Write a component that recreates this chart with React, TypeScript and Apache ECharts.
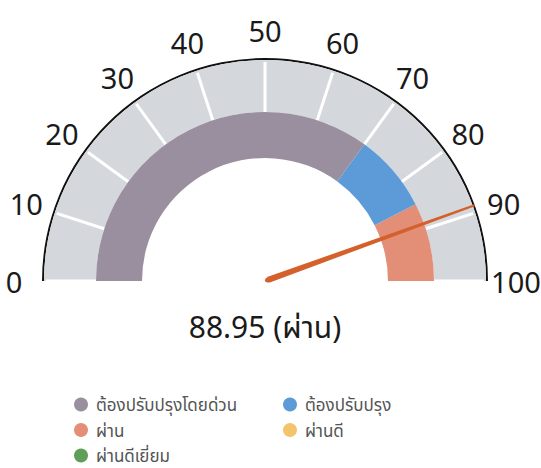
import React, { useEffect, useRef } from "react";
import * as echarts from "echarts";

// ---- data ----
const categories = ["ต้องปรับปรุงโดยด่วน", "ต้องปรับปรุง", "ผ่าน", "ผ่านดี", "ผ่านดีเยี่ยม"];
const categoryColors = ["#9a8f9e", "#5d9bd8", "#e38e76", "#f3c46c", "#5f9e58"];
const bandEnds = [70, 85, 100]; // colored band segment ends
const bandCategory = [0, 1, 2]; // which category each band shows
const gaugeMin = 0;
const gaugeMax = 100;
const gaugeSplits = 10;
const score = 88.95;
const scoreStatus = "ผ่าน";

const leftLegend = [categories[0], categories[2], categories[4]];
const rightLegend = [categories[1], categories[3]];

const FONT = "'Noto Sans', 'Noto Sans Thai', sans-serif";

export default function App() {
  const ref = useRef<HTMLDivElement>(null);
  useEffect(() => {
    if (!ref.current) return;
    const chart = echarts.init(ref.current, null, { renderer: "svg" });
    const cx = 265;
    const cy = 281;
    const bandColors = bandEnds.map((e, i) => [
      (e - gaugeMin) / (gaugeMax - gaugeMin),
      categoryColors[bandCategory[i]],
    ]);
    const common = {
      type: "gauge",
      center: [cx, cy],
      startAngle: 180,
      endAngle: 0,
      min: gaugeMin,
      max: gaugeMax,
      splitNumber: gaugeSplits,
      silent: true,
      axisTick: { show: false },
      title: { show: false },
      anchor: { show: false },
      progress: { show: false },
    };
    const legendCommon = {
      orient: "vertical",
      top: 396,
      height: 90,
      padding: 0,
      itemWidth: 20,
      itemHeight: 14,
      itemGap: 8.5,
      icon: "circle",
      selectedMode: false,
      textStyle: { color: "#555", fontSize: 17, lineHeight: 14, fontFamily: FONT },
    };
    chart.setOption({
      animation: false,
      legend: [
        { ...legendCommon, left: 74, data: leftLegend },
        { ...legendCommon, left: 283, data: rightLegend },
      ],
      series: [
        {
          ...common,
          radius: 223,
          axisLine: { lineStyle: { width: 2, color: [[1, "#111111"]] } },
          splitLine: { show: false },
          axisLabel: { show: false },
          pointer: { show: false },
          detail: { show: false },
          data: [{ value: score }],
        },
        {
          ...common,
          radius: 221,
          axisLine: { lineStyle: { width: 52, color: [[1, "#d4d7db"]] } },
          splitLine: {
            show: true,
            distance: -50,
            length: 50,
            lineStyle: { color: "#ffffff", width: 3 },
          },
          axisLabel: {
            show: true,
            distance: -30,
            rotate: 0.0001,
            color: "#1a1a1a",
            fontSize: 29,
            fontFamily: FONT,
          },
          pointer: { show: false },
          detail: { show: false },
          data: [{ value: score }],
        },
        {
          ...common,
          radius: 169,
          axisLine: { lineStyle: { width: 46, color: bandColors } },
          splitLine: { show: false },
          axisLabel: { show: false },
          pointer: {
            show: true,
            icon: "path://M3.2,0 L6.8,0 L10,196 A5,5 0 0 1 0,196 Z",
            length: 223,
            width: 6,
            offsetCenter: [0, 0],
            itemStyle: { color: "#d4602b" },
          },
          detail: {
            show: true,
            offsetCenter: [0, 45],
            fontSize: 30,
            fontWeight: "normal",
            color: "#1a1a1a",
            fontFamily: FONT,
            formatter: (v: number) => `${v} (${scoreStatus})`,
          },
          data: [{ value: score }],
        },
        {
          type: "pie",
          radius: 0,
          center: [-100, -100],
          silent: true,
          label: { show: false },
          labelLine: { show: false },
          data: categories.map((name, i) => ({
            name,
            value: 1,
            itemStyle: { color: categoryColors[i] },
          })),
        },
      ],
    });
    return () => chart.dispose();
  }, []);
  return (
    <div
      ref={ref}
      style={{ position: "absolute", left: 0, top: 0, width: 541, height: 468 }}
    />
  );
}
